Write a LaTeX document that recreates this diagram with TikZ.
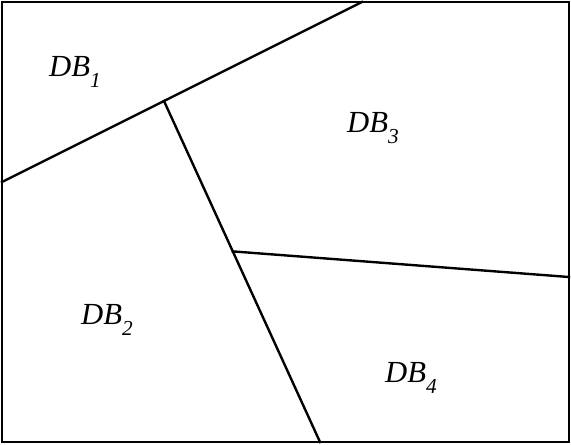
\documentclass[tikz,border=0pt]{standalone}
\usepackage{fontspec}
\setmainfont{Liberation Serif}
\usetikzlibrary{calc}
\newcommand{\regionsub}[1]{\raisebox{-0.38em}{\fontsize{16}{18}\selectfont #1}}
\begin{document}
\begin{tikzpicture}[x=0.75pt,y=-0.75pt,
  edge/.style={line width=1.8pt, line cap=rect},
  region/.style={font=\fontsize{23}{26}\selectfont\itshape, inner sep=0pt}]
\useasboundingbox (0,0) rectangle (571,444);
% outer frame
\coordinate (tl) at (2,2);
\coordinate (br) at (569,442);
\draw[line width=1.8pt] (tl) rectangle (br);
% partition boundaries
\coordinate (a1) at (2,182);
\coordinate (a2) at (362,2);
\coordinate (b1) at ($(a1)!0.45!(a2)$);
\coordinate (b2) at (320,442);
\coordinate (c1) at ($(b1)!0.441!(b2)$);
\coordinate (c2) at (569,277);
\draw[edge] (a1) -- (a2);
\draw[edge] (b1) -- (b2);
\draw[edge] (c1) -- (c2);
% region labels
\node[region] (db1) at (75,72) {DB\regionsub{1}};
\node[region] (db3) at (373,128) {DB\regionsub{3}};
\node[region] (db2) at (107,320) {DB\regionsub{2}};
\node[region] (db4) at (411,378) {DB\regionsub{4}};
\end{tikzpicture}
\end{document}
